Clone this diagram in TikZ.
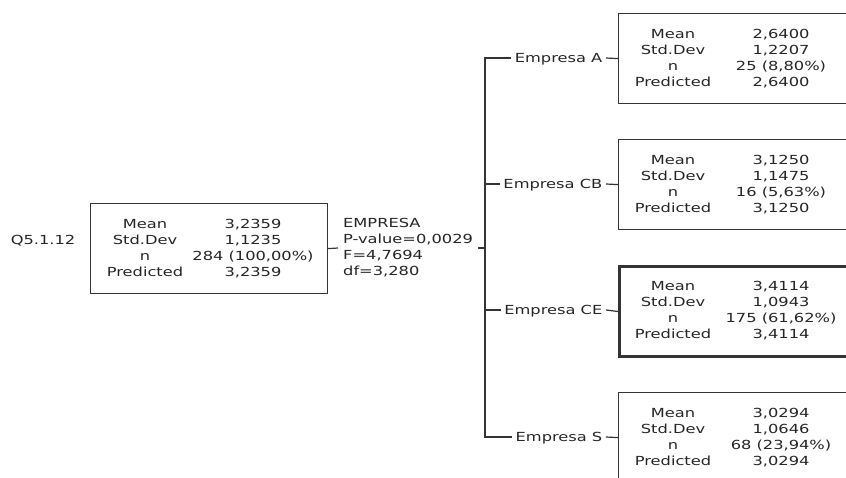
\documentclass[tikz,border=0pt]{standalone}
\usepackage{fontspec}
\newfontfamily\diagfont[FakeStretch=1.3]{DejaVu Sans}
\definecolor{ink}{RGB}{38,38,38}
\definecolor{wire}{RGB}{52,52,52}

% One statistics box: name, extra frame style, top-left corner, four values
\newcommand\statbox[7]{%
  \node[frame,#2] (#1) at #3 {};
  \path (#1.north west) ++(55,21) node[cell] (#1-k1) {Mean}
        ++(0,16) node[cell] (#1-k2) {Std.Dev}
        ++(0,16) node[cell] (#1-k3) {n}
        ++(0,16) node[cell] (#1-k4) {Predicted};
  \path (#1.north west) ++(163,21) node[cell] (#1-v1) {#4}
        ++(0,16) node[cell] (#1-v2) {#5}
        ++(0,16) node[cell] (#1-v3) {#6}
        ++(0,16) node[cell] (#1-v4) {#7};
}

\begin{document}
\begin{tikzpicture}[x=1pt,y=-1pt,
  every node/.style={font=\diagfont\fontsize{12.5}{16}\selectfont, text=ink, inner sep=0pt},
  cell/.style={text height=9.1pt, text depth=0pt},
  frame/.style={draw=wire, line width=1.2pt, minimum width=237pt, minimum height=90pt,
                anchor=north west, inner sep=0pt},
  chosen/.style={line width=3pt},
  link/.style={draw=wire, line width=1.2pt, line join=miter},
  branch/.style={anchor=east, inner xsep=3.5pt, text height=9.1pt, text depth=0pt},
]
\fill[white] (0,0) rectangle (846,478);
\useasboundingbox (0,0) rectangle (846,478);
\clip (0,0) rectangle (846,478);

% root of the tree
\node[cell] (qlabel) at (43,240) {Q5.1.12};
\statbox{root}{}{(90,203)}{3,2359}{1,1235}{284 (100,00\%)}{3,2359}

% split description
\node[anchor=west, align=left, inner xsep=5pt] (split) at (338,248)
  {EMPRESA\\P-value=0,0029\\F=4,7694\\df=3,280};

% child boxes
\statbox{boxA}{}{(618,13)}{2,6400}{1,2207}{25 (8,80\%)}{2,6400}
\statbox{boxCB}{}{(618,139)}{3,1250}{1,1475}{16 (5,63\%)}{3,1250}
\statbox{boxCE}{chosen}{(618,265)}{3,4114}{1,0943}{175 (61,62\%)}{3,4114}
\statbox{boxS}{}{(618,392)}{3,0294}{1,0646}{68 (23,94\%)}{3,0294}

% branch labels
\node[branch] (lA)  at (606,58)  {Empresa A};
\node[branch] (lCB) at (606,184) {Empresa CB};
\node[branch] (lCE) at (606,310) {Empresa CE};
\node[branch] (lS)  at (606,437) {Empresa S};

% trunk joints
\coordinate (jA)  at (485,58);
\coordinate (jCB) at (485,184);
\coordinate (jR)  at (485,248);
\coordinate (jCE) at (485,310);
\coordinate (jS)  at (485,437);

% connectors
\draw[link] (root.east) -- (split.west);
\draw[link] (split.east) -- (jR);
\draw[link] (lA.west) -- (jA) -- (jS) -- (lS.west);
\draw[link] (jCB) -- (lCB.west);
\draw[link] (jCE) -- (lCE.west);
\draw[link] (lA.east) -- (boxA.west);
\draw[link] (lCB.east) -- (boxCB.west);
\draw[link] (lCE.east) -- (boxCE.west);
\draw[link] (lS.east) -- (boxS.west);
\end{tikzpicture}
\end{document}
